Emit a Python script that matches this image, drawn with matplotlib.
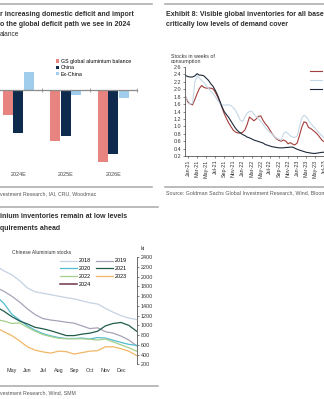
import matplotlib
matplotlib.use("Agg")
import matplotlib.pyplot as plt
import numpy as np
from matplotlib.lines import Line2D

W, H = 324, 399

# aluminium market balance, kt
years = ["2024E", "2025E", "2026E"]
gs_balance = [-660, -1340, -1890]
china_balance = [-1130, -1210, -1680]
exchina_balance = [470, -130, -210]

# visible inventories, weeks of consumption, half-month steps from mid-Dec 2020
cover_start = -0.5
copper_cover = [1.79, 1.65, 1.60, 1.58, 1.72, 1.88, 2.02, 2.10, 2.05, 2.03, 2.03, 2.03,
                2.01, 1.92, 1.80, 1.66, 1.50, 1.33, 1.20, 1.08, 0.98, 0.89, 0.84, 0.82,
                0.82, 0.84, 0.90, 1.05, 1.25, 1.20, 1.15, 1.20, 1.27, 1.28, 1.16, 1.07,
                1.00, 0.90, 0.80, 0.72, 0.66, 0.62, 0.60, 0.63, 0.60, 0.53, 0.56, 0.52,
                0.50, 0.55, 0.75, 0.97, 1.12, 1.10, 0.97, 0.94, 0.89, 0.84, 0.78, 0.70,
                0.62, 0.58]
aluminium_cover = [1.78, 1.70, 1.60, 1.62, 2.20, 2.36, 2.30, 2.24, 2.18, 2.10, 2.02, 1.94,
                   1.88, 1.80, 1.70, 1.62, 1.58, 1.57, 1.58, 1.58, 1.55, 1.50, 1.42, 1.30,
                   1.16, 1.13, 1.25, 1.36, 1.40, 1.41, 1.33, 1.26, 1.20, 1.14, 1.06, 0.97,
                   0.90, 0.84, 0.79, 0.72, 0.68, 0.65, 0.63, 0.80, 0.86, 0.80, 0.74, 0.71,
                   0.70, 0.74, 0.98, 1.22, 1.30, 1.26, 1.16, 1.08, 1.00, 0.94, 0.87, 0.80,
                   0.74, 0.68]
zinc_cover = [2.37, 2.34, 2.33, 2.33, 2.36, 2.42, 2.38, 2.38, 2.36, 2.30, 2.24, 2.15,
              2.08, 1.97, 1.84, 1.68, 1.52, 1.39, 1.31, 1.23, 1.13, 1.03, 0.94, 0.87,
              0.82, 0.78, 0.75, 0.71, 0.69, 0.66, 0.63, 0.61, 0.59, 0.57, 0.55, 0.51,
              0.49, 0.47, 0.45, 0.44, 0.43, 0.42, 0.42, 0.42, 0.43, 0.43, 0.44, 0.44,
              0.41, 0.38, 0.36, 0.34, 0.32, 0.30, 0.29, 0.28, 0.27, 0.27, 0.28, 0.29,
              0.30, 0.30]

# Chinese aluminium stocks, kt, half-month steps from 1 April
stocks_start = 3.0
stocks_2018 = [2220, 2120, 2040, 1920, 1770, 1690, 1660, 1630, 1600, 1570, 1545, 1505,
               1465, 1440, 1350, 1270, 1200, 1150, 1120]
stocks_2019 = [1780, 1700, 1600, 1480, 1340, 1220, 1140, 1110, 1090, 1065, 1045, 990,
               935, 950, 870, 840, 780, 700, 580]
stocks_2020 = [1600, 1450, 1230, 1110, 990, 900, 830, 785, 750, 730, 730, 740,
               720, 750, 740, 695, 650, 610, 590]
stocks_2021 = [1380, 1290, 1180, 1090, 1030, 960, 930, 890, 840, 790, 790, 820,
               840, 880, 990, 1040, 1060, 1000, 880]
stocks_2022 = [1120, 1090, 1040, 1050, 960, 880, 810, 770, 735, 725, 725, 725,
               715, 700, 720, 660, 600, 540, 470]
stocks_2023 = [950, 870, 790, 680, 560, 490, 455, 430, 470, 460, 410, 440,
               470, 480, 560, 560, 520, 470, 380]
stocks_2024_start = 2.0
stocks_2024 = [860, 880, 840]

stock_colors = {
    "2018": "#c5d2e2", "2019": "#a9a2b6", "2020": "#52bcd2", "2021": "#1f5c4c",
    "2022": "#a6cf8e", "2023": "#f1b766", "2024": "#6f3548",
}
month_names = ["Jan", "Feb", "Mar", "Apr", "May", "Jun",
               "Jul", "Aug", "Sep", "Oct", "Nov", "Dec"]

plt.rcParams["font.family"] = ["Liberation Sans Narrow", "Liberation Sans", "DejaVu Sans"]
TITLE_C = "#2f2f2f"
SRC_C = "#555555"
RULE_C = "#a8a8a8"
AXIS_C = "#555555"
TITLE_FS = 5.0
SRC_FS = 3.8


def px_box(x0, y0, x1, y1):
    return [x0 / W, 1 - y1 / H, (x1 - x0) / W, (y1 - y0) / H]


def put_text(x, y, s, **kw):
    kw.setdefault("color", TITLE_C)
    fig.text(x / W, 1 - y / H, s, va="center", ha="left", **kw)


def rule(x0, x1, y):
    fig.add_artist(Line2D([x0 / W, x1 / W], [1 - y / H, 1 - y / H],
                          color=RULE_C, lw=1.1))


fig = plt.figure(figsize=(W / 100, H / 100), dpi=100)

# --- balance bars -----------------------------------------------------------
rule(0, 152, 4)
put_text(0, 14, "r increasing domestic deficit and import", fontsize=TITLE_FS, fontweight="bold")
put_text(0, 25, "o the global deficit path we see in 2024", fontsize=TITLE_FS, fontweight="bold")
put_text(0, 35, "alance", fontsize=4.8)

ax1 = fig.add_axes(px_box(-5.5, 52, 137, 166))
x = np.arange(len(years))
bw = 0.22
ax1.bar(x - bw, gs_balance, bw * 0.94, color="#e8847f", label="GS global aluminium balance")
ax1.bar(x, china_balance, bw * 0.94, color="#0e2b4e", label="China")
ax1.bar(x + bw, exchina_balance, bw * 0.94, color="#a0cdec", label="Ex-China")
ax1.set_xlim(-0.5, 2.5)
ax1.set_ylim(-2000, 1000)
for side in ["left", "right", "top"]:
    ax1.spines[side].set_visible(False)
ax1.spines["bottom"].set_position(("data", 0))
ax1.spines["bottom"].set_color("#8c8c8c")
ax1.spines["bottom"].set_linewidth(0.9)
ax1.set_xticks([0.5, 1.5, 2.5])
ax1.tick_params(axis="x", length=2.5, width=0.6, color="#8c8c8c", direction="inout",
                labelbottom=False)
ax1.set_yticks([])
sec = ax1.secondary_xaxis(0)
sec.set_xticks(x, years)
sec.tick_params(length=0, labelsize=3.9, pad=4, labelcolor="#444444")
sec.spines["bottom"].set_visible(False)
ax1.legend(loc="upper left", bbox_to_anchor=(56 / W, 1 - 59 / H),
           bbox_transform=fig.transFigure, frameon=False, fontsize=3.8,
           handlelength=0.6, handleheight=0.6, handletextpad=0.3,
           labelspacing=0.25, borderpad=0, borderaxespad=0)

rule(0, 152, 187)
put_text(0, 194, "vestment Research, IAI, CRU, Woodmac", fontsize=SRC_FS, color=SRC_C)

# --- inventory cover --------------------------------------------------------
rule(165, 324, 4)
put_text(166, 14, "Exhibit 8: Visible global inventories for all base metals at",
         fontsize=TITLE_FS, fontweight="bold")
put_text(166, 25, "critically low levels of demand cover", fontsize=TITLE_FS, fontweight="bold")
put_text(171, 59, "Stocks in weeks of\nconsumption", fontsize=3.8, linespacing=1.0,
         color="#333333")

ax2 = fig.add_axes(px_box(185, 67, 329, 156))
m = cover_start + 0.5 * np.arange(len(copper_cover))
ax2.plot(m, copper_cover, color="#a33f3b", lw=0.8, label="Copper")
ax2.plot(m, aluminium_cover, color="#c6d8e6", lw=0.8, label="Aluminium")
ax2.plot(m, zinc_cover, color="#1d2a3a", lw=0.8, label="Zinc")
ax2.set_xlim(-0.66, 31)
ax2.set_ylim(0.2, 2.6)
yt = np.arange(0.2, 2.61, 0.2)
ax2.set_yticks(yt, [f"{v:.1f}" for v in yt])
xt = np.arange(0, 31, 2)
ax2.set_xticks(xt, [f"{month_names[t % 12]}-{21 + t // 12}" for t in xt], rotation=90)
for side in ["top", "right"]:
    ax2.spines[side].set_visible(False)
for side in ["left", "bottom"]:
    ax2.spines[side].set_color(AXIS_C)
    ax2.spines[side].set_linewidth(0.6)
ax2.tick_params(length=1.5, width=0.5, color=AXIS_C, labelsize=3.9, pad=1,
                labelcolor="#333333")
ax2.legend(loc="upper left", bbox_to_anchor=(310 / W, 1 - 69 / H),
           bbox_transform=fig.transFigure, frameon=False, fontsize=4,
           handlelength=2.2, handletextpad=0.3, labelspacing=0.75,
           borderpad=0, borderaxespad=0)

rule(165, 324, 187)
put_text(166, 194, "Source: Goldman Sachs Global Investment Research, Wind, Bloomberg",
         fontsize=SRC_FS, color=SRC_C)

# --- Chinese aluminium stocks -----------------------------------------------
rule(0, 158, 207)
put_text(0, 217, "inium inventories remain at low levels", fontsize=TITLE_FS, fontweight="bold")
put_text(0, 228, "quirements ahead", fontsize=TITLE_FS, fontweight="bold")
put_text(12, 252, "Chinese Aluminium stocks", fontsize=3.6, color="#333333")
put_text(141, 249, "kt", fontsize=3.8, color="#333333")

ax3 = fig.add_axes(px_box(-50.6, 257.3, 136.6, 364.3))
mo = stocks_start + 0.5 * np.arange(len(stocks_2018))
series = {
    "2018": stocks_2018, "2019": stocks_2019, "2020": stocks_2020,
    "2021": stocks_2021, "2022": stocks_2022, "2023": stocks_2023,
}
lines = {}
for yr, vals in series.items():
    lines[yr], = ax3.plot(mo, vals, color=stock_colors[yr], lw=0.9, label=yr)
mo24 = stocks_2024_start + 0.5 * np.arange(len(stocks_2024))
lines["2024"], = ax3.plot(mo24, stocks_2024, color=stock_colors["2024"], lw=1.1, label="2024")

ax3.set_xlim(0, 12)
ax3.set_ylim(200, 2400)
ax3.yaxis.tick_right()
ax3.set_yticks(np.arange(200, 2401, 200))
ax3.set_xticks(np.arange(12), month_names)
for side in ["left", "top", "bottom"]:
    ax3.spines[side].set_visible(False)
ax3.spines["right"].set_color(AXIS_C)
ax3.spines["right"].set_linewidth(0.6)
ax3.tick_params(axis="y", length=1.5, width=0.5, color=AXIS_C, labelsize=3.9, pad=1.5,
                labelcolor="#333333")
ax3.tick_params(axis="x", length=0, labelsize=3.9, pad=3, labelcolor="#333333")
order = ["2018", "2020", "2022", "2024", "2019", "2021", "2023"]
ax3.legend([lines[k] for k in order], order, ncol=2, loc="upper left",
           bbox_to_anchor=(60 / W, 1 - 258.5 / H), bbox_transform=fig.transFigure,
           frameon=False, fontsize=3.9, handlelength=3.2, handletextpad=0.3,
           labelspacing=0.5, columnspacing=0.9, borderpad=0, borderaxespad=0)

rule(0, 158, 386)
put_text(0, 393, "vestment Research, Wind, SMM", fontsize=SRC_FS, color=SRC_C)

fig.savefig("out.png", dpi=100)
